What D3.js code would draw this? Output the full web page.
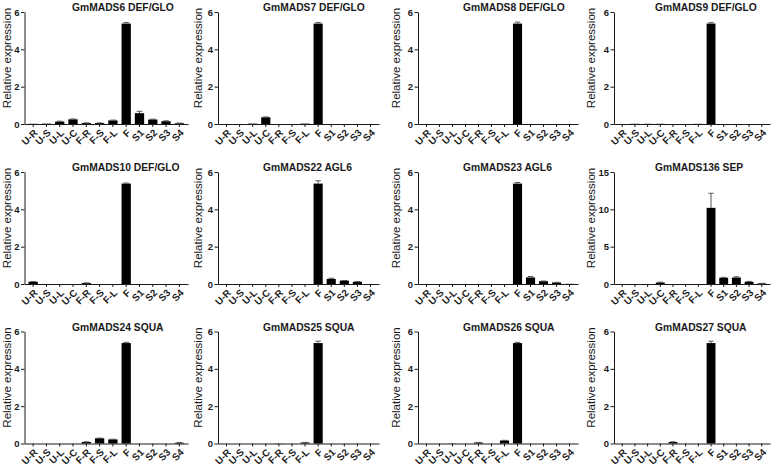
<!DOCTYPE html>
<html><head><meta charset="utf-8">
<script src="https://cdn.jsdelivr.net/npm/d3@7/dist/d3.min.js"></script>
<style>
body{margin:0;background:#fff;}
svg{font-family:Arial,"Liberation Sans",sans-serif;}
</style></head>
<body>
<script>
const categories = ["U-R","U-S","U-L","U-C","F-R","F-S","F-L","F","S1","S2","S3","S4"];
const titles = ["GmMADS6 DEF/GLO","GmMADS7 DEF/GLO","GmMADS8 DEF/GLO","GmMADS9 DEF/GLO",
  "GmMADS10 DEF/GLO","GmMADS22 AGL6","GmMADS23 AGL6","GmMADS136 SEP",
  "GmMADS24 SQUA","GmMADS25 SQUA","GmMADS26 SQUA","GmMADS27 SQUA"];
const gm6    = [0.01,0.02,0.13,0.25,0.05,0.05,0.19,5.38,0.58,0.24,0.15,0.04];
const gm6Err = [0,0,0.02,0.02,0.01,0.01,0.02,0.06,0.1,0.02,0.02,0.01];
const gm7    = [0,0,0.02,0.36,0,0,0.02,5.38,0,0,0,0];
const gm7Err = [0,0,0,0.02,0,0,0,0.06,0,0,0,0];
const gm8    = [0,0,0,0,0,0,0,5.38,0,0,0,0];
const gm8Err = [0,0,0,0,0,0,0,0.08,0,0,0,0];
const gm9    = [0,0.01,0.01,0.01,0,0,0.01,5.38,0,0,0,0];
const gm9Err = [0,0,0,0,0,0,0,0.05,0,0,0,0];
const gm10    = [0.12,0,0,0,0.05,0,0,5.38,0,0,0,0];
const gm10Err = [0.01,0,0,0,0.01,0,0,0.03,0,0,0,0];
const gm22    = [0,0,0,0,0,0,0,5.38,0.27,0.18,0.12,0];
const gm22Err = [0,0,0,0,0,0,0,0.15,0.04,0.01,0.01,0];
const gm23    = [0,0,0,0,0,0,0,5.38,0.35,0.15,0.08,0.01];
const gm23Err = [0,0,0,0,0,0,0,0.06,0.05,0.01,0.01,0];
const gm136    = [0,0,0,0.2,0,0,0,10.2,0.84,0.87,0.3,0.08];
const gm136Err = [0,0,0,0.05,0,0,0,1.95,0.05,0.1,0.05,0.01];
const gm24    = [0,0,0,0,0.08,0.28,0.22,5.38,0,0,0,0.04];
const gm24Err = [0,0,0,0,0.01,0.01,0.01,0.04,0,0,0,0.01];
const gm25    = [0,0,0,0,0.01,0,0.05,5.38,0,0,0,0];
const gm25Err = [0,0,0,0,0,0,0.01,0.1,0,0,0,0];
const gm26    = [0,0,0.01,0,0.05,0,0.16,5.38,0,0,0,0];
const gm26Err = [0,0,0,0,0.01,0,0.01,0.04,0,0,0,0];
const gm27    = [0,0,0,0,0.08,0,0,5.38,0,0,0,0];
const gm27Err = [0,0,0,0,0.01,0,0,0.1,0,0,0,0];
const yMaxes = [6,6,6,6,6,6,6,15,6,6,6,6];
const yTickSets = [[0,2,4,6],[0,5,10,15]];
const yLabel = "Relative expression";

const values = [gm6,gm7,gm8,gm9,gm10,gm22,gm23,gm136,gm24,gm25,gm26,gm27];
const errors = [gm6Err,gm7Err,gm8Err,gm9Err,gm10Err,gm22Err,gm23Err,gm136Err,gm24Err,gm25Err,gm26Err,gm27Err];

const W = 781, H = 470;
// per-column layout (absolute x)
const colAxis  = [24.5, 218, 418, 614];
const colEnd   = [188, 379, 578, 770];
const colLabel = [10.5, 202, 399.5, 595];
const colTitle = [72, 263, 463, 655];
const rowY = [0, 160, 319.5];
const ink = "#1a1a1a";

const svg = d3.select("body").append("svg").attr("width", W).attr("height", H);

values.forEach((vals, i) => {
  const col = i % 4, row = Math.floor(i / 4);
  const g = svg.append("g").attr("transform", `translate(0,${rowY[row]})`);
  const axX = colAxis[col];
  const x = d3.scaleBand().domain(categories).range([axX, colEnd[col]]).padding(0.3);
  const yMax = yMaxes[i];
  const y = d3.scaleLinear().domain([0, yMax]).range([124, 12]);
  const ticks = yMax === 15 ? yTickSets[1] : yTickSets[0];

  const data = categories.map((c, k) => ({c, v: vals[k], e: errors[i][k]}));

  g.selectAll("rect.bar").data(data).join("rect")
    .attr("class", "bar")
    .attr("x", d => x(d.c))
    .attr("width", x.bandwidth())
    .attr("y", d => y(d.v))
    .attr("height", d => y(0) - y(d.v))
    .attr("fill", "#000");

  const eb = g.selectAll("g.err").data(data.filter(d => d.e > 0)).join("g").attr("class", "err");
  eb.append("line")
    .attr("x1", d => x(d.c) + x.bandwidth() / 2).attr("x2", d => x(d.c) + x.bandwidth() / 2)
    .attr("y1", d => y(d.v)).attr("y2", d => y(d.v + d.e))
    .attr("stroke", "#555").attr("stroke-width", 1);
  eb.append("line")
    .attr("x1", d => x(d.c) + x.bandwidth() * 0.2).attr("x2", d => x(d.c) + x.bandwidth() * 0.8)
    .attr("y1", d => y(d.v + d.e)).attr("y2", d => y(d.v + d.e))
    .attr("stroke", "#555").attr("stroke-width", 1);

  const ya = g.append("g").attr("transform", `translate(${axX},0)`)
    .call(d3.axisLeft(y).tickValues(ticks).tickFormat(d3.format("d"))
      .tickSize(3.5).tickSizeOuter(0).tickPadding(1.5));
  ya.selectAll("text").attr("font-size", 9.5).attr("font-weight", "bold").attr("fill", ink);
  ya.selectAll("line,path").attr("stroke", ink);

  const xa = g.append("g").attr("transform", `translate(0,${y(0)})`)
    .call(d3.axisBottom(x).tickSize(3).tickSizeOuter(0));
  xa.selectAll("line,path").attr("stroke", ink);
  xa.selectAll("text")
    .attr("font-size", 9.8).attr("font-weight", "bold").attr("fill", ink)
    .attr("text-anchor", "end")
    .attr("x", 0).attr("y", 0).attr("dy", 0)
    .attr("transform", "translate(5,9.5) rotate(-45)");

  g.append("text")
    .attr("transform", `translate(${colLabel[col]},58) rotate(-90)`)
    .attr("text-anchor", "middle")
    .attr("font-size", 11.5).attr("fill", ink)
    .text(yLabel);

  g.append("text")
    .attr("x", colTitle[col]).attr("y", 11)
    .attr("font-size", 10.3).attr("font-weight", "bold").attr("fill", ink)
    .text(titles[i]);
});
</script>
</body></html>
